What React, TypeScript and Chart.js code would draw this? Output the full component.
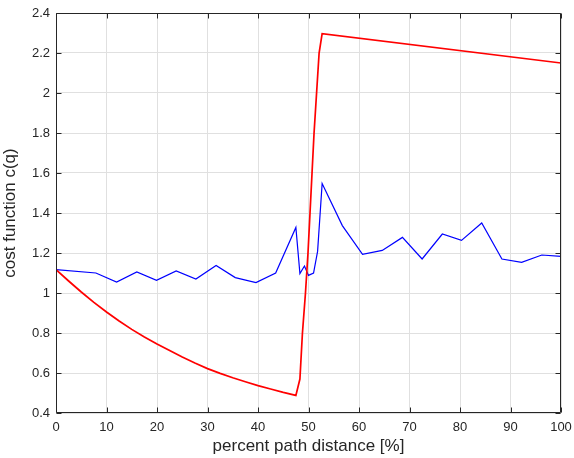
import React, { useEffect, useRef } from "react";
import { Chart, registerables } from "chart.js";

Chart.register(...registerables);

// Blue series (sampled cost)
const blueX = [0, 7.9, 12, 16, 19.9, 23.8, 27.7, 31.7, 35.5, 39.6, 43.5, 47.5, 48.3, 49.2, 50.0, 51.0, 51.8, 52.7, 56.7, 60.7, 64.6, 68.6, 72.5, 76.5, 80.3, 84.3, 88.3, 92.2, 96.2, 100];
const blueY = [1.117, 1.1, 1.055, 1.105, 1.063, 1.11, 1.07, 1.138, 1.077, 1.052, 1.1, 1.328, 1.097, 1.135, 1.088, 1.1, 1.208, 1.547, 1.337, 1.193, 1.213, 1.278, 1.17, 1.295, 1.263, 1.35, 1.17, 1.153, 1.19, 1.183];

// Red series (smooth cost)
const redX = [0, 2.5, 5, 7.5, 10, 12.5, 15, 17.5, 20, 22.5, 25, 27.5, 30, 32.5, 35, 37.5, 40, 42.5, 45, 47.5, 48.3, 48.8, 49.4, 49.9, 50.3, 50.7, 51.1, 51.6, 52.1, 52.7, 100];
const redY = [1.117, 1.06, 1.005, 0.953, 0.905, 0.86, 0.818, 0.78, 0.745, 0.712, 0.68, 0.65, 0.622, 0.598, 0.576, 0.556, 0.537, 0.52, 0.503, 0.488, 0.57, 0.8, 1.0, 1.2, 1.4, 1.6, 1.8, 2.0, 2.2, 2.297, 2.15];

const xTicks = [0, 10, 20, 30, 40, 50, 60, 70, 80, 90, 100];
const yTicks = [0.4, 0.6, 0.8, 1, 1.2, 1.4, 1.6, 1.8, 2, 2.2, 2.4];

const xTitle = "percent path distance [%]";
const yTitle = "cost function c(q)";

const W = 574;
const H = 458;
const AXIS = "#262626";
const FONT = "'Liberation Sans', Arial, Helvetica, sans-serif";

const boxPlugin = {
  id: "matlabBox",
  afterDatasetsDraw(chart: any) {
    const { ctx, chartArea } = chart;
    const xs = chart.scales.x;
    const ys = chart.scales.y;
    const l = Math.round(chartArea.left) + 0.5;
    const r = Math.round(chartArea.right) - 0.5;
    const t = Math.round(chartArea.top) + 0.5;
    const b = Math.round(chartArea.bottom) - 0.5;
    ctx.save();
    ctx.strokeStyle = AXIS;
    ctx.lineWidth = 1;
    ctx.beginPath();
    ctx.rect(l, t, r - l, b - t);
    const len = 5;
    xTicks.forEach((v) => {
      const px = Math.round(xs.getPixelForValue(v)) + 0.5;
      ctx.moveTo(px, b);
      ctx.lineTo(px, b - len);
      ctx.moveTo(px, t);
      ctx.lineTo(px, t + len);
    });
    yTicks.forEach((v) => {
      const py = Math.round(ys.getPixelForValue(v)) + 0.5;
      ctx.moveTo(l, py);
      ctx.lineTo(l + len, py);
      ctx.moveTo(r, py);
      ctx.lineTo(r - len, py);
    });
    ctx.stroke();
    ctx.restore();
  },
};

export default function App() {
  const ref = useRef<HTMLCanvasElement | null>(null);

  useEffect(() => {
    if (!ref.current) return;
    const chart = new Chart(ref.current, {
      type: "line",
      data: {
        datasets: [
          {
            label: "red",
            data: redX.map((x, i) => ({ x, y: redY[i] })),
            borderColor: "#ff0000",
            borderWidth: 1.7,
            pointRadius: 0,
            tension: 0,
            fill: false,
          },
          {
            label: "blue",
            data: blueX.map((x, i) => ({ x, y: blueY[i] })),
            borderColor: "#0000ff",
            borderWidth: 1.2,
            pointRadius: 0,
            tension: 0,
            fill: false,
          },
        ],
      },
      options: {
        responsive: false,
        animation: false,
        devicePixelRatio: 1,
        layout: { padding: { left: 0, right: 13, top: 13, bottom: 0 } },
        plugins: {
          legend: { display: false },
          tooltip: { enabled: false },
        },
        scales: {
          x: {
            type: "linear",
            min: 0,
            max: 100,
            afterBuildTicks: (scale: any) => {
              scale.ticks = xTicks.map((v) => ({ value: v }));
            },
            afterFit: (scale: any) => {
              scale.height = 45;
              scale.paddingLeft = 0;
              scale.paddingRight = 0;
            },
            grid: { color: "#e0e0e0", drawTicks: false, lineWidth: 1 },
            border: { display: false },
            ticks: {
              color: AXIS,
              font: { family: FONT, size: 13 },
              padding: 7,
              maxRotation: 0,
              autoSkip: false,
              callback: (v: any) => String(v),
            },
            title: {
              display: true,
              text: xTitle,
              color: AXIS,
              font: { family: FONT, size: 17 },
              padding: { top: 0, bottom: 1 },
            },
          },
          y: {
            type: "linear",
            min: 0.4,
            max: 2.4,
            afterBuildTicks: (scale: any) => {
              scale.ticks = yTicks.map((v) => ({ value: v }));
            },
            afterFit: (scale: any) => {
              scale.width = 56;
              scale.paddingTop = 0;
              scale.paddingBottom = 0;
            },
            grid: { color: "#e0e0e0", drawTicks: false, lineWidth: 1 },
            border: { display: false },
            ticks: {
              color: AXIS,
              font: { family: FONT, size: 13 },
              padding: 6,
              autoSkip: false,
              callback: (v: any) => String(Number(Number(v).toFixed(1))),
            },
            title: {
              display: true,
              text: yTitle,
              color: AXIS,
              font: { family: FONT, size: 17 },
              padding: { top: 0, bottom: 0 },
            },
          },
        },
      },
      plugins: [boxPlugin],
    } as any);
    return () => chart.destroy();
  }, []);

  return (
    <div style={{ position: "fixed", left: 0, top: 0, width: W, height: H, background: "#fff" }}>
      <canvas ref={ref} width={W} height={H} style={{ width: W, height: H, display: "block" }} />
    </div>
  );
}
